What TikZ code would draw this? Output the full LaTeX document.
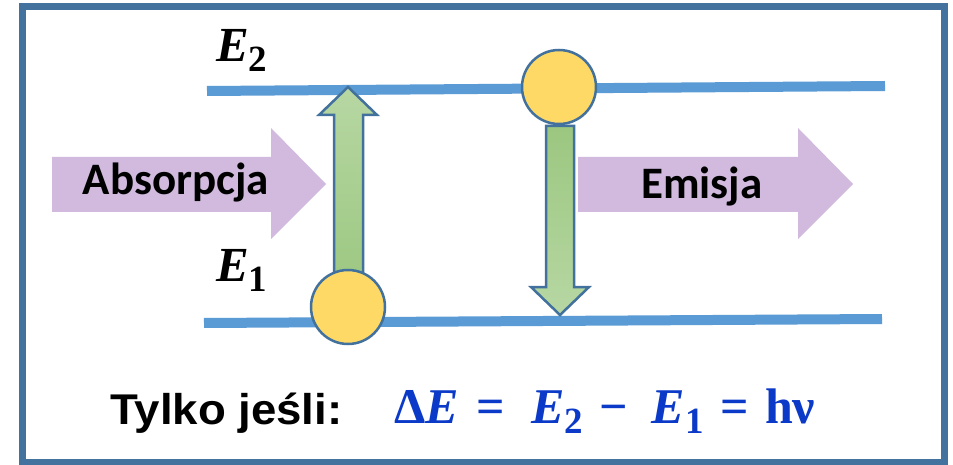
\documentclass[tikz,border=0pt]{standalone}
\usepackage{fontspec}
\setmainfont{Liberation Serif}
\newfontfamily\calfont{Carlito}
\newfontfamily\arialfont{Liberation Sans}
\newfontfamily\mfont{Liberation Serif}
\definecolor{framec}{RGB}{68,114,158}
\definecolor{levelc}{RGB}{91,155,213}
\definecolor{edgec}{RGB}{65,113,156}
\definecolor{ballc}{RGB}{255,217,102}
\definecolor{greenA}{RGB}{183,215,163}
\definecolor{greenB}{RGB}{155,199,128}
\definecolor{purplec}{RGB}{209,186,222}
\definecolor{formc}{RGB}{12,58,200}
\newcommand{\lsub}[1]{\raisebox{-10pt}{\fontsize{37}{37}\selectfont\upshape #1}}
\begin{document}
\begin{tikzpicture}[x=1pt,y=-1pt,
  level/.style={draw=levelc,line width=10pt},
  ball/.style={circle,fill=ballc,draw=edgec,line width=2.5pt,minimum size=74pt,inner sep=0pt},
  garrow/.style={draw=edgec,line width=2.5pt,line join=miter},
  parrow/.style={fill=purplec},
  lbl/.style={inner sep=0pt,font=\calfont\bfseries\fontsize{45}{45}\selectfont}]
\useasboundingbox (0,0) rectangle (953,465);
\fill[white] (0,0) rectangle (953,465);
\draw[framec,line width=7pt] (22.5,6.5) rectangle (944.5,462);
% energy levels
\coordinate (L2a) at (207,91); \coordinate (L2b) at (885,86);
\coordinate (L1a) at (204,323); \coordinate (L1b) at (882,319);
\draw[level] (L2a) -- (L2b);
\draw[level] (L1a) -- (L1b);
% purple arrows
\path[parrow] (52,157) -- (271,157) -- (271,128) -- (326,184) -- (271,239) -- (271,212) -- (52,212) -- cycle;
\path[parrow] (578,157) -- (798,157) -- (798,128) -- (853,184) -- (798,239) -- (798,212) -- (578,212) -- cycle;
\node[lbl,anchor=base] (abs) at (176,195) {Absorpcja};
\node[lbl,anchor=base] (emi) at (702,199) {Emisja};
% green arrows
\shadedraw[garrow,top color=greenA,bottom color=greenB] (348,87) -- (377,115) -- (363,115) -- (363,292) -- (334,292) -- (334,115) -- (319,115) -- cycle;
\shadedraw[garrow,top color=greenB,bottom color=greenA] (546,126) -- (574,126) -- (574,287) -- (589,287) -- (560,315) -- (531,287) -- (546,287) -- cycle;
% electrons
\node[ball] (b1) at (348,307) {};
\node[ball] (b2) at (559,87) {};
% level labels
\node[anchor=base west,inner sep=0pt] (e2) at (216,62) {\mfont\bfseries\fontsize{49}{49}\selectfont\itshape E\lsub{2}};
\node[anchor=base west,inner sep=0pt] (e1) at (216,281) {\mfont\bfseries\fontsize{49}{49}\selectfont\itshape E\lsub{1}};
% condition
\node[anchor=base west,inner sep=0pt] (cond) at (110,424) {\scalebox{1.06}[1]{\arialfont\bfseries\fontsize{43}{43}\selectfont Tylko jeśli:}};
\node[anchor=base west,inner sep=0pt,text=formc] (form) at (394,423) {\mfont\bfseries\fontsize{50}{50}\selectfont Δ\textit{E}\hspace{18pt}=\hspace{26pt}\textit{E}\lsub{2}\hspace{16pt}−\hspace{24pt}\textit{E}\lsub{1}\hspace{17pt}=\hspace{16pt}hν};
\end{tikzpicture}
\end{document}
